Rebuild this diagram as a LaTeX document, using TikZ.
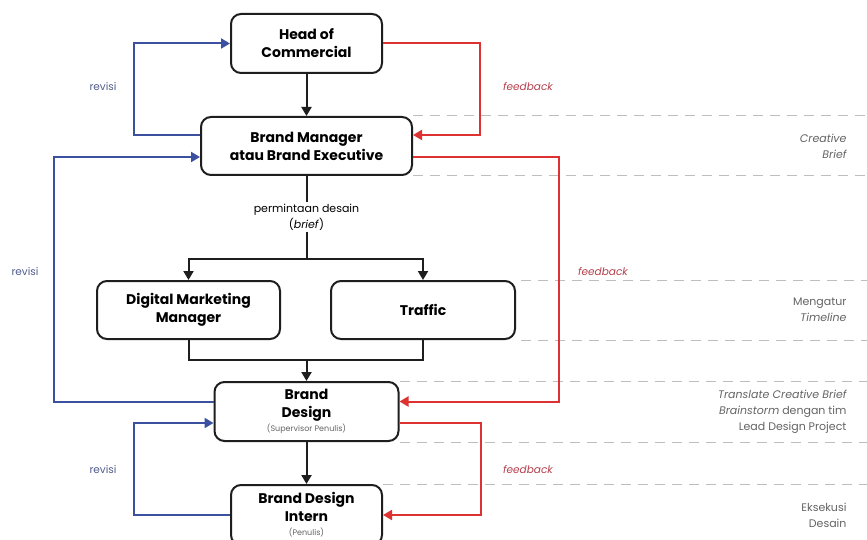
\documentclass[tikz,border=0pt]{standalone}
\usepackage{fontspec}
\setmainfont{Poppins}
\usetikzlibrary{arrows.meta}
\definecolor{cblue}{RGB}{60,80,160}
\definecolor{cred}{RGB}{222,50,50}
\definecolor{lblue}{RGB}{80,92,140}
\definecolor{lred}{RGB}{180,64,78}
\definecolor{dashc}{RGB}{190,190,190}
\definecolor{sidec}{RGB}{100,100,100}
\definecolor{boxc}{RGB}{30,30,30}
\tikzset{
  box/.style={draw=boxc, line width=2pt, rounded corners=10pt, align=center, font=\fontsize{14}{18}\selectfont\bfseries, inner sep=0pt},
  blk/.style={draw=boxc, line width=2pt, -{Triangle[width=10pt,length=9pt]}},
  blkline/.style={draw=boxc, line width=2pt},
  bluel/.style={draw=cblue, line width=2pt, -{Triangle[width=10pt,length=9pt]}},
  redl/.style={draw=cred, line width=2pt, -{Triangle[width=10pt,length=9pt]}},
  sep/.style={draw=dashc, line width=1pt, dash pattern=on 10pt off 7pt},
  rev/.style={text=lblue, font=\fontsize{10.5}{12}\selectfont},
  fb/.style={text=lred, font=\fontsize{10.5}{12}\selectfont\itshape},
  side/.style={text=sidec, font=\fontsize{11}{16}\selectfont, align=right, anchor=east}
}
\begin{document}
\begin{tikzpicture}[x=1pt,y=-1pt]
\useasboundingbox (0,0) rectangle (867,540);
\fill[white] (0,0) rectangle (867,540);
\coordinate (R) at (867,0);
% nodes
\node[box, minimum width=151pt, minimum height=59pt] (HoC) at (306.5,43.5) {Head of\\Commercial};
\node[box, minimum width=211pt, minimum height=58pt] (BM) at (306.5,146) {Brand Manager\\atau Brand Executive};
\node[box, minimum width=183pt, minimum height=58pt] (DMM) at (188.5,310) {Digital Marketing\\Manager};
\node[box, minimum width=184pt, minimum height=58pt] (TR) at (423,310) {Traffic};
\node[box, minimum width=184pt, minimum height=59pt] (BD) at (306.5,411.5) {Brand\\Design\\[-4pt]{\fontsize{8}{9}\selectfont\mdseries\color{sidec} (Supervisor Penulis)}};
\node[box, minimum width=151pt, minimum height=60pt] (BDI) at (306.5,515) {Brand Design\\Intern\\[-4pt]{\fontsize{8}{9}\selectfont\mdseries\color{sidec} (Penulis)}};
\node[font=\fontsize{11}{16}\selectfont, align=center, inner sep=2pt] (req) at (306.5,217) {permintaan desain\\(\textit{brief})};
% separators
\draw[sep] (BM.north east) -- (BM.north east -| R);
\draw[sep] (BM.south east) -- (BM.south east -| R);
\draw[sep] (TR.north east) ++(5,0) -- (TR.north east -| R);
\draw[sep] (TR.south east) ++(5,0) -- (TR.south east -| R);
\draw[sep] (BD.north east) -- (BD.north east -| R);
\draw[sep] (BD.south east) -- (BD.south east -| R);
\draw[sep] (BDI.north east) -- (BDI.north east -| R);
% black flow
\draw[blk] (HoC.south) -- (BM.north);
\draw[blkline] (BM.south) -- (req.north);
\coordinate (split) at (306.5,259);
\draw[blkline] (req.south) -- (split);
\draw[blk] (split) -| (DMM.north);
\draw[blk] (split) -| (TR.north);
\coordinate (merge) at (306.5,360);
\draw[blkline] (DMM.south) |- (merge);
\draw[blkline] (TR.south) |- (merge);
\draw[blk] (merge) -- (BD.north);
\draw[blk] (BD.south) -- (BDI.north);
% blue revisi loops
\draw[bluel] ([yshift=11pt]BM.west) -- ++(-66,0) |- (HoC.west);
\draw[bluel] ([yshift=10pt]BD.west) -- ++(-160,0) |- ([yshift=-11pt]BM.west);
\draw[bluel] (BDI.west) -- ++(-96,0) |- ([yshift=-11.5pt]BD.west);
% red feedback loops
\draw[redl] (HoC.east) -- ++(97,0) |- ([yshift=11pt]BM.east);
\draw[redl] ([yshift=-11pt]BM.east) -- ++(146,0) |- ([yshift=10pt]BD.east);
\draw[redl] ([yshift=-11.5pt]BD.east) -- ++(81,0) |- (BDI.east);
% labels
\node[rev] (r1) at (103,87) {revisi};
\node[rev] (r2) at (25,272) {revisi};
\node[rev] (r3) at (103,470) {revisi};
\node[fb] (f1) at (528,87) {feedback};
\node[fb] (f2) at (603,272) {feedback};
\node[fb] (f3) at (528,470) {feedback};
\node[side] (s1) at (850,146) {\itshape Creative\\\itshape Brief};
\node[side] (s2) at (850,310) {Mengatur\\\itshape Timeline};
\node[side] (s3) at (850,412) {\itshape Translate Creative Brief\\\textit{Brainstorm} dengan tim\\Lead Design Project};
\node[side] (s4) at (850,515) {Eksekusi\\Desain};
\end{tikzpicture}
\end{document}
